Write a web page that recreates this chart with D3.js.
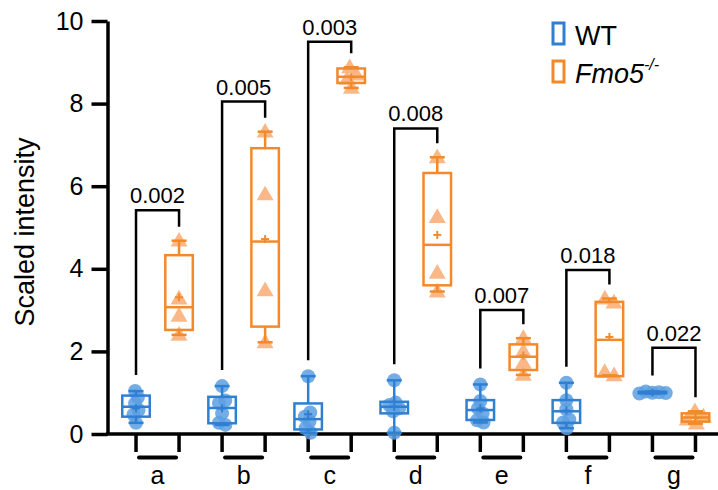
<!DOCTYPE html>
<html>
<head>
<meta charset="utf-8">
<script src="https://cdn.jsdelivr.net/npm/d3@7"></script>
<style>
body{margin:0;background:#fff}
svg{display:block;font-family:"Liberation Sans",Arial,Helvetica,sans-serif}
</style>
</head>
<body>
<svg></svg>
<script>
var groups = ["a","b","c","d","e","f","g"];
var pValues = ["0.002","0.005","0.003","0.008","0.007","0.018","0.022"];
var bracketTop = [5.42, 8.05, 9.5, 7.4, 3.0, 3.97, 2.09];

// WT (circles)
var wtPoints = [
  [1.04, 0.89, 0.74, 0.58, 0.47, 0.27],
  [1.16, 0.81, 0.75, 0.5, 0.27, 0.22],
  [1.4, 0.52, 0.42, 0.3, 0.14, 0.03],
  [1.3, 0.76, 0.7, 0.62, 0.55, 0.03],
  [1.2, 0.8, 0.62, 0.5, 0.33, 0.28],
  [1.24, 0.82, 0.6, 0.35, 0.28, 0.14],
  [1.03, 1.01, 1.0, 0.99, 0.98]
];
var wtQ1 = [0.42, 0.26, 0.11, 0.5, 0.34, 0.27, 0.985];
var wtMedian = [0.66, 0.63, 0.36, 0.66, 0.58, 0.55, 1.0];
var wtQ3 = [0.93, 0.9, 0.74, 0.78, 0.82, 0.82, 1.02];
var wtMean = [0.62, 0.62, 0.48, 0.66, 0.62, 0.57, 1.0];

// Fmo5-/- (triangles)
var koPoints = [
  [4.68, 3.28, 2.86, 2.40],
  [7.32, 5.8, 3.48, 2.22],
  [8.88, 8.7, 8.6, 8.38],
  [6.7, 5.25, 3.9, 3.45],
  [2.32, 2.0, 1.72, 1.43],
  [3.28, 3.18, 1.5, 1.42],
  [0.55, 0.42, 0.35, 0.25]
];
var koQ1 = [2.52, 2.6, 8.5, 3.6, 1.55, 1.4, 0.3];
var koMedian = [3.07, 4.66, 8.65, 4.58, 1.87, 2.28, 0.4];
var koQ3 = [4.33, 6.92, 8.85, 6.32, 2.17, 3.2, 0.5];
var koMean = [3.31, 4.72, 8.64, 4.82, 1.9, 2.35, 0.39];

var yTicks = [0, 2, 4, 6, 8, 10];

var width = 718;
var height = 490;
var blue = "#2f7fd3";
var orange = "#f28a2b";

var svg = d3.select('svg')
            .attr("width",width)
            .attr("height",height)

var y = d3.scaleLinear().domain([0,10]).range([434,21]);
var x0 = d3.scaleBand().domain(groups).range([114.5,717]);
var x1 = d3.scalePoint().domain(["WT","KO"]).range([0,x0.bandwidth()]).padding(0.5);

var series = [
  {key:"WT", points:wtPoints, q1:wtQ1, med:wtMedian, q3:wtQ3, mean:wtMean, color:blue, fill:"#5c9fe2"},
  {key:"KO", points:koPoints, q1:koQ1, med:koMedian, q3:koQ3, mean:koMean, color:orange, fill:"#f9b07b"}
];

// y axis
var yAxis = svg.append("g")
  .attr("transform","translate(107.5,0)")
  .call(d3.axisLeft(y).tickValues(yTicks).tickSize(16).tickSizeOuter(0).tickPadding(8));
yAxis.select(".domain").attr("stroke","#000").attr("stroke-width",3.5);
yAxis.selectAll(".tick line").attr("stroke","#000").attr("stroke-width",3.5);
yAxis.selectAll(".tick text").attr("font-size",25).attr("fill","#000")
  .attr("font-family","'Liberation Sans',Arial,sans-serif");

svg.append("text")
  .attr("transform","translate(34,232) rotate(-90)")
  .attr("text-anchor","middle")
  .attr("font-size",27)
  .text("Scaled intensity");

// x axis with grouped ticks
svg.append("line")
  .attr("x1",106).attr("x2",718)
  .attr("y1",y(0)).attr("y2",y(0))
  .attr("stroke","#000").attr("stroke-width",3.5);

var gx = svg.selectAll("g.grp")
  .data(groups)
  .enter()
  .append("g")
  .attr("class","grp")
  .attr("transform",d=>"translate("+x0(d)+",0)");

gx.selectAll("line.tk")
  .data(["WT","KO"])
  .enter()
  .append("line")
  .attr("class","tk")
  .attr("x1",d=>x1(d)).attr("x2",d=>x1(d))
  .attr("y1",y(0)).attr("y2",452)
  .attr("stroke","#000").attr("stroke-width",3.5);

gx.append("line")
  .attr("x1",x1("WT")+3).attr("x2",x1("KO")-3)
  .attr("y1",457.5).attr("y2",457.5)
  .attr("stroke","#000").attr("stroke-width",4).attr("stroke-linecap","round");

gx.append("text")
  .attr("x",x0.bandwidth()/2)
  .attr("y",484)
  .attr("text-anchor","middle")
  .attr("font-size",25)
  .text(d=>d);

// points (beeswarm with a small force layout), then boxes
var boxW = 27.5, capW = 15;
series.forEach(function(s){
  groups.forEach(function(g,i){
    var cx = x0(g) + x1(s.key);
    var nodes = s.points[i].map((v,j)=>({v:v, x:cx + (j%2 ? 1 : -1)*(j+1)*0.4, fy:y(v)}));
    var simulation = d3.forceSimulation(nodes)
      .force("x", d3.forceX(cx).strength(0.12))
      .force("collide", d3.forceCollide(s.key==="WT" ? 3.4 : 5))
      .stop();
    for (var k=0; k<150; k++) simulation.tick();

    var layer = svg.append("g");
    if (s.key==="WT") {
      layer.selectAll("circle")
        .data(nodes)
        .enter()
        .append("circle")
        .attr("cx",d=>d.x).attr("cy",d=>d.fy)
        .attr("r",7)
        .attr("fill",s.fill).attr("fill-opacity",0.85);
    } else {
      layer.selectAll("path")
        .data(nodes)
        .enter()
        .append("path")
        .attr("d",d3.symbol(d3.symbolTriangle).size(125))
        .attr("transform",d=>"translate("+d.x+","+(d.fy+1)+")")
        .attr("fill",s.fill).attr("fill-opacity",0.9);
    }

    var mx = d3.max(s.points[i]), mn = d3.min(s.points[i]);
    var box = svg.append("g")
      .attr("stroke",s.color).attr("stroke-width",2.5).attr("fill","none");
    box.append("line").attr("x1",cx).attr("x2",cx).attr("y1",y(mx)).attr("y2",y(s.q3[i]));
    box.append("line").attr("x1",cx).attr("x2",cx).attr("y1",y(s.q1[i])).attr("y2",y(mn));
    box.append("line").attr("x1",cx-capW/2).attr("x2",cx+capW/2).attr("y1",y(mx)).attr("y2",y(mx));
    box.append("line").attr("x1",cx-capW/2).attr("x2",cx+capW/2).attr("y1",y(mn)).attr("y2",y(mn));
    box.append("rect")
      .attr("x",cx-boxW/2).attr("width",boxW)
      .attr("y",y(s.q3[i])).attr("height",Math.max(1,y(s.q1[i])-y(s.q3[i])));
    box.append("line").attr("x1",cx-boxW/2).attr("x2",cx+boxW/2)
      .attr("y1",y(s.med[i])).attr("y2",y(s.med[i]));
    box.append("line").attr("x1",cx-4).attr("x2",cx+4)
      .attr("y1",y(s.mean[i])).attr("y2",y(s.mean[i])).attr("stroke-width",2);
    box.append("line").attr("x1",cx).attr("x2",cx)
      .attr("y1",y(s.mean[i])-4).attr("y2",y(s.mean[i])+4).attr("stroke-width",2);
  });
});

// p-value brackets
var br = svg.selectAll("g.br")
  .data(groups)
  .enter()
  .append("g")
  .attr("class","br");

br.append("path")
  .attr("d",function(g,i){
    var wx = x0(g)+x1("WT"), kx = x0(g)+x1("KO");
    var top = y(bracketTop[i]);
    var l = y(d3.max(wtPoints[i]))-16, r = y(d3.max(koPoints[i]))-14;
    return "M"+wx+","+l+"V"+top+"H"+kx+"V"+r;
  })
  .attr("fill","none").attr("stroke","#000").attr("stroke-width",2.5);

br.append("text")
  .attr("x",g=>x0(g)+x0.bandwidth()/2)
  .attr("y",(g,i)=>y(bracketTop[i])-7)
  .attr("text-anchor","middle")
  .attr("font-size",22)
  .text((g,i)=>pValues[i]);

// legend
var legend = svg.append("g");
legend.append("rect").attr("x",553).attr("y",23).attr("width",11).attr("height",21)
  .attr("fill","none").attr("stroke",blue).attr("stroke-width",3);
legend.append("rect").attr("x",553).attr("y",61).attr("width",11).attr("height",21)
  .attr("fill","none").attr("stroke",orange).attr("stroke-width",3);
legend.append("text").attr("x",575).attr("y",45).attr("font-size",27).text("WT");
var ko = legend.append("text").attr("x",575).attr("y",83).attr("font-size",27).attr("font-style","italic");
ko.append("tspan").text("Fmo5");
ko.append("tspan").attr("font-size",16).attr("dy",-13).text("-/-");
</script>
</body>
</html>
